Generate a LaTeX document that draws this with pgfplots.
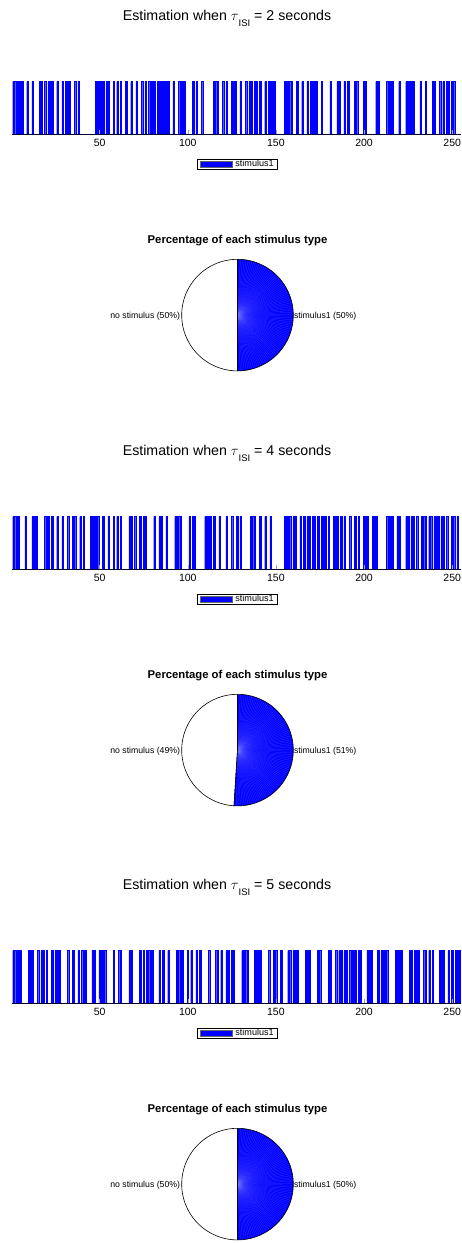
\documentclass[border=0pt]{standalone}
\usepackage{pgfplots}
\pgfplotsset{compat=1.18}
\usepackage{fontspec}
\setmainfont{Liberation Sans}

\pgfplotsset{
  seqaxis/.style={
    scale only axis, width=448.6pt, height=53pt,
    anchor=south west,
    xmin=0.5, xmax=255, ymin=0, ymax=1,
    axis y line=none, axis x line*=bottom,
    x axis line style={-, draw=black!80!blue, line width=0.7pt},
    xtick={50,100,150,200,250}, ytick=\empty,
    tick align=inside, major tick length=5pt,
    xtick style={draw=gray!70, line width=0.5pt},
    xticklabel style={font=\fontsize{10.5}{12}\selectfont, anchor=base, yshift=-12pt},
    /pgf/number format/assume math mode=true,
    axis on top,
    legend style={at={(0.502,-0.457)}, anchor=north, draw=black, line width=0.5pt,
      font=\fontsize{9.1}{10}\selectfont, inner xsep=2.5pt, inner ysep=0pt,
      column sep=2pt, nodes={inner sep=1.3pt}},
    legend image code/.code={\fill[blue, draw=black!60, line width=0.3pt] (0pt,-3.3pt) rectangle (31.6pt,3.3pt);},
  },
  seqbars/.style={ybar, bar width=0.8, fill=blue, draw=blue, line width=0.1pt},
  pieaxis/.style={scale only axis, width=111.6pt, height=111.6pt, anchor=center,
    xmin=-1, xmax=1, ymin=-1, ymax=1, hide axis, clip=false},
}
\tikzset{
  pielabel/.style={font=\fontsize{8.7}{10}\selectfont, inner sep=0pt},
  pietitle/.style={font=\fontsize{11.3}{13}\selectfont\bfseries, inner sep=0pt},
  esttitle/.style={font=\fontsize{14.2}{16}\selectfont, anchor=base, inner sep=0pt},
}
\newcommand{\esttitle}[1]{Estimation when $\tau$\raisebox{-6.3pt}{\fontsize{9.5}{10}\selectfont ISI} = #1 seconds}
% fan of thin seams across the stimulus wedge
\newcommand{\wedgerays}[1]{%
  \pgfplotsinvokeforeach{#1}{%
    \addplot[draw=blue!55!white, opacity=0.45, line width=0.25pt, domain=0:0.985, samples=2, variable=\s]
      ({\s*cos(##1)},{\s*sin(##1)});}}

\begin{document}
\begin{tikzpicture}[x=1pt, y=1pt]
\useasboundingbox (0,0) rectangle (461,-1243);

% ---------------- tau = 2 s ----------------
\node[esttitle] at (227,-20) {\esttitle{2}};
\begin{axis}[seqaxis, at={(12.4pt,-134.5pt)}]
\addplot[seqbars] coordinates {
(1,1)(2,1)(3,1)(4,1)(5,1)(6,1)(9,1)(12,1)(16,1)(17,1)(19,1)(21,1)(22,1)(23,1)(26,1)(29,1)
(31,1)(32,1)(33,1)(36,1)(38,1)(48,1)(49,1)(50,1)(51,1)(52,1)(54,1)(55,1)(58,1)(60,1)(62,1)
(65,1)(68,1)(71,1)(74,1)(76,1)(78,1)(79,1)(80,1)(81,1)(83,1)(84,1)(85,1)(86,1)(87,1)(88,1)
(89,1)(92,1)(95,1)(96,1)(97,1)(98,1)(103,1)(105,1)(108,1)(115,1)(116,1)(117,1)(120,1)(122,1)
(125,1)(126,1)(127,1)(130,1)(133,1)(135,1)(136,1)(138,1)(139,1)(141,1)(144,1)(146,1)(147,1)
(148,1)(149,1)(155,1)(156,1)(157,1)(158,1)(159,1)(162,1)(165,1)(168,1)(170,1)(171,1)(172,1)
(173,1)(176,1)(181,1)(185,1)(186,1)(189,1)(191,1)(195,1)(196,1)(200,1)(201,1)(207,1)(208,1)
(213,1)(214,1)(215,1)(216,1)(220,1)(224,1)(225,1)(226,1)(227,1)(228,1)(232,1)(235,1)(239,1)
(240,1)(243,1)(245,1)(247,1)(248,1)(250,1)(251,1)};
\addlegendentry{stimulus1}
\end{axis}
\begin{axis}[pieaxis, at={(237.5pt,-315.1pt)}]
\addplot[fill=white, draw=black, line width=0.6pt, domain=90:270, samples=91, variable=\t]
  ({cos(\t)},{sin(\t)}) -- (0,0) -- cycle;
\addplot[fill=blue, draw=none, domain=270:450, samples=91, variable=\t]
  ({cos(\t)},{sin(\t)}) -- (0,0) -- cycle;
\wedgerays{-87,-85,...,87}
\addplot[draw=black, line width=0.6pt, domain=270:450, samples=91, variable=\t]
  ({cos(\t)},{sin(\t)}) -- (0,0) -- cycle;
\node[pietitle, anchor=base] at (axis cs:0,1.287) {Percentage of each stimulus type};
\node[pielabel, anchor=base east, xshift=-1.5pt] at (axis cs:-1,-0.057) {no stimulus (50\%)};
\node[pielabel, anchor=base west, xshift=0.5pt] at (axis cs:1,-0.057) {stimulus1 (50\%)};
\end{axis}

% ---------------- tau = 4 s ----------------
\node[esttitle] at (227,-455) {\esttitle{4}};
\begin{axis}[seqaxis, at={(12.4pt,-569.5pt)}]
\addplot[seqbars] coordinates {
(1,1)(2,1)(3,1)(4,1)(8,1)(12,1)(13,1)(14,1)(19,1)(20,1)(21,1)(23,1)(26,1)(29,1)(32,1)(35,1)
(36,1)(39,1)(41,1)(45,1)(46,1)(47,1)(48,1)(49,1)(52,1)(55,1)(58,1)(60,1)(62,1)(67,1)(68,1)
(70,1)(73,1)(75,1)(76,1)(81,1)(84,1)(85,1)(88,1)(93,1)(94,1)(95,1)(96,1)(101,1)(103,1)(104,1)
(110,1)(111,1)(112,1)(113,1)(115,1)(118,1)(122,1)(125,1)(128,1)(130,1)(136,1)(137,1)(138,1)
(141,1)(144,1)(147,1)(155,1)(156,1)(157,1)(158,1)(160,1)(161,1)(164,1)(166,1)(168,1)(169,1)
(171,1)(172,1)(174,1)(176,1)(177,1)(178,1)(180,1)(183,1)(184,1)(185,1)(187,1)(189,1)(192,1)
(195,1)(197,1)(200,1)(201,1)(202,1)(205,1)(206,1)(207,1)(213,1)(214,1)(215,1)(216,1)(219,1)
(220,1)(224,1)(225,1)(227,1)(228,1)(230,1)(233,1)(234,1)(235,1)(237,1)(238,1)(240,1)(241,1)
(242,1)(244,1)(245,1)(247,1)(250,1)(251,1)(253,1)};
\addlegendentry{stimulus1}
\end{axis}
\begin{axis}[pieaxis, at={(237.5pt,-750.1pt)}]
\addplot[fill=white, draw=black, line width=0.6pt, domain=90:266.4, samples=91, variable=\t]
  ({cos(\t)},{sin(\t)}) -- (0,0) -- cycle;
\addplot[fill=blue, draw=none, domain=266.4:450, samples=93, variable=\t]
  ({cos(\t)},{sin(\t)}) -- (0,0) -- cycle;
\wedgerays{-91,-89,...,87}
\addplot[draw=black, line width=0.6pt, domain=266.4:450, samples=93, variable=\t]
  ({cos(\t)},{sin(\t)}) -- (0,0) -- cycle;
\node[pietitle, anchor=base] at (axis cs:0,1.287) {Percentage of each stimulus type};
\node[pielabel, anchor=base east, xshift=-1.5pt] at (axis cs:-1,-0.057) {no stimulus (49\%)};
\node[pielabel, anchor=base west, xshift=0.5pt] at (axis cs:1,-0.057) {stimulus1 (51\%)};
\end{axis}

% ---------------- tau = 5 s ----------------
\node[esttitle] at (227,-889) {\esttitle{5}};
\begin{axis}[seqaxis, at={(12.4pt,-1003.5pt)}]
\addplot[seqbars] coordinates {
(1,1)(2,1)(3,1)(4,1)(5,1)(10,1)(11,1)(12,1)(15,1)(17,1)(18,1)(20,1)(23,1)(25,1)(26,1)(27,1)
(32,1)(35,1)(38,1)(40,1)(41,1)(42,1)(46,1)(47,1)(50,1)(51,1)(52,1)(53,1)(58,1)(61,1)(62,1)
(67,1)(68,1)(73,1)(75,1)(77,1)(78,1)(79,1)(80,1)(84,1)(86,1)(89,1)(94,1)(95,1)(96,1)(97,1)
(100,1)(102,1)(105,1)(107,1)(112,1)(116,1)(117,1)(119,1)(122,1)(123,1)(125,1)(126,1)(131,1)
(132,1)(133,1)(134,1)(138,1)(139,1)(140,1)(141,1)(146,1)(149,1)(150,1)(153,1)(157,1)(158,1)
(160,1)(161,1)(162,1)(167,1)(168,1)(169,1)(174,1)(175,1)(180,1)(181,1)(184,1)(186,1)(187,1)
(189,1)(190,1)(192,1)(193,1)(194,1)(195,1)(197,1)(198,1)(202,1)(203,1)(204,1)(208,1)(210,1)
(211,1)(212,1)(213,1)(218,1)(219,1)(220,1)(221,1)(226,1)(227,1)(229,1)(230,1)(231,1)(234,1)
(235,1)(237,1)(239,1)(243,1)(244,1)(245,1)(248,1)(250,1)(252,1)(253,1)(254,1)};
\addlegendentry{stimulus1}
\end{axis}
\begin{axis}[pieaxis, at={(237.5pt,-1184.1pt)}]
\addplot[fill=white, draw=black, line width=0.6pt, domain=90:270, samples=91, variable=\t]
  ({cos(\t)},{sin(\t)}) -- (0,0) -- cycle;
\addplot[fill=blue, draw=none, domain=270:450, samples=91, variable=\t]
  ({cos(\t)},{sin(\t)}) -- (0,0) -- cycle;
\wedgerays{-87,-85,...,87}
\addplot[draw=black, line width=0.6pt, domain=270:450, samples=91, variable=\t]
  ({cos(\t)},{sin(\t)}) -- (0,0) -- cycle;
\node[pietitle, anchor=base] at (axis cs:0,1.287) {Percentage of each stimulus type};
\node[pielabel, anchor=base east, xshift=-1.5pt] at (axis cs:-1,-0.057) {no stimulus (50\%)};
\node[pielabel, anchor=base west, xshift=0.5pt] at (axis cs:1,-0.057) {stimulus1 (50\%)};
\end{axis}
\end{tikzpicture}
\end{document}
